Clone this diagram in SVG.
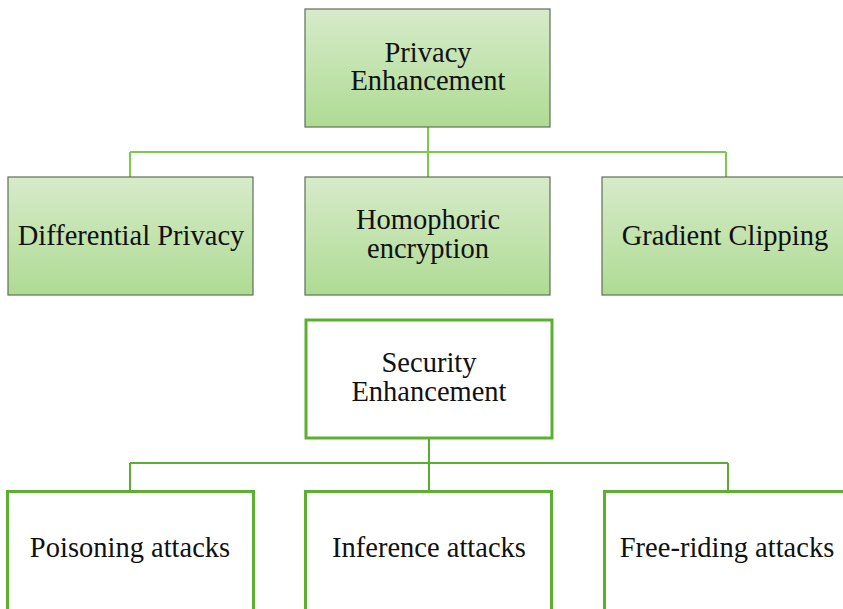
<svg xmlns="http://www.w3.org/2000/svg" width="843" height="609" viewBox="0 0 843 609">
<defs>
<linearGradient id="g" x1="0" y1="0" x2="0" y2="1">
<stop offset="0" stop-color="#d7ebca"/>
<stop offset="1" stop-color="#aedb93"/>
</linearGradient>
<style>
.pb{fill:url(#g);stroke:#5e7055;stroke-width:1.2}
.sb{fill:#fff;stroke:#5cb030;stroke-width:3}
.t{font-family:"Liberation Serif","Times New Roman",serif;font-size:28.5px;fill:#111;text-anchor:middle}
.c1{fill:none;stroke:#7acc48;stroke-width:2}
.c2{fill:none;stroke:#5aad2e;stroke-width:2}
</style>
</defs>
<rect width="843" height="609" fill="#fff"/>
<g id="connectors">
<path class="c1" d="M428 127V177M130 152H726M130 152V177M726 152V177"/>
<path class="c2" d="M429 438V490M130 463H728M130 463V490M728 463V490"/>
</g>
<g id="privacy"><rect class="pb" x="305" y="9" width="245" height="118"/><text class="t" x="428" y="62">Privacy</text><text class="t" x="428" y="90">Enhancement</text></g>
<g id="dp"><rect class="pb" x="8" y="177" width="245" height="118"/><text class="t" x="131" y="245">Differential Privacy</text></g>
<g id="he"><rect class="pb" x="305" y="177" width="245" height="118"/><text class="t" x="428" y="229">Homophoric</text><text class="t" x="428" y="258">encryption</text></g>
<g id="gc"><rect class="pb" x="602" y="177" width="246" height="118"/><text class="t" x="725" y="245">Gradient Clipping</text></g>
<g id="security"><rect class="sb" x="306" y="320" width="246" height="118"/><text class="t" x="429" y="372">Security</text><text class="t" x="429" y="401">Enhancement</text></g>
<g id="pa"><rect class="sb" x="7.5" y="491.5" width="246" height="124"/><text class="t" x="130" y="557">Poisoning attacks</text></g>
<g id="ia"><rect class="sb" x="305.5" y="491.5" width="246" height="124"/><text class="t" x="429" y="557">Inference attacks</text></g>
<g id="fa"><rect class="sb" x="604.5" y="491.5" width="246" height="124"/><text class="t" x="727" y="557">Free-riding attacks</text></g>
</svg>
